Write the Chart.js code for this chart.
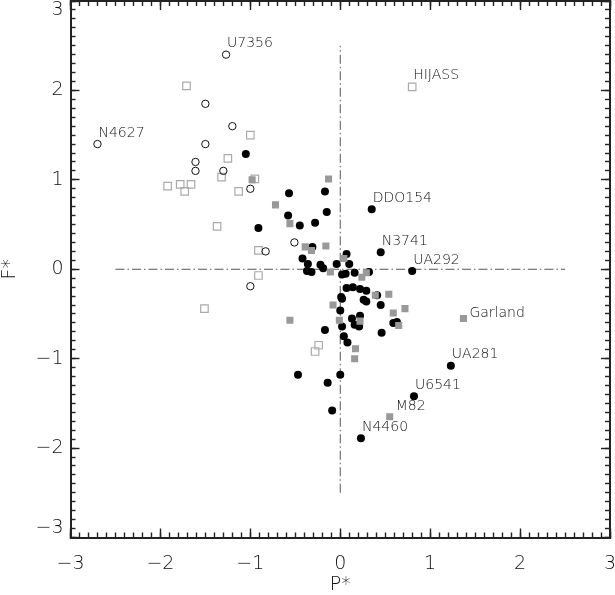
<!DOCTYPE html>
<html>
<head>
<meta charset="utf-8">
<script src="https://cdn.jsdelivr.net/npm/chart.js@4.4.1/dist/chart.umd.min.js"></script>
<style>
html,body{margin:0;padding:0;background:#fff;}
#wrap{width:615px;height:595px;}
</style>
</head>
<body>
<div id="wrap"><canvas id="chart" width="615" height="595"></canvas></div>
<script>
// filled black circles
let blackX = [-1.05,-0.57,-0.17,-0.58,-0.15,-0.28,-0.45,-0.91,-0.31,-0.42,0.07,-0.36,-0.22,-0.19,-0.04,0.10,-0.37,-0.32,0.02,0.06,0.16,0.32,0.35,0.45,0.80,0.07,0.14,0.22,0.29,0.01,0.02,0.26,0.29,0.41,0.45,0.00,0.13,0.22,0.16,0.21,0.02,0.59,0.63,-0.17,0.46,0.04,0.08,0.00,-0.14,-0.09,-0.47,1.23,0.82,0.23]
let blackY = [1.29,0.85,0.87,0.60,0.64,0.52,0.49,0.46,0.25,0.12,0.17,0.06,0.05,0.01,0.06,0.06,-0.02,-0.03,-0.06,-0.05,-0.04,-0.03,0.67,0.19,-0.02,-0.21,-0.20,-0.22,-0.24,-0.31,-0.33,-0.34,-0.36,-0.29,-0.40,-0.46,-0.55,-0.52,-0.62,-0.64,-0.64,-0.60,-0.59,-0.68,-0.71,-0.75,-0.82,-1.18,-1.27,-1.58,-1.18,-1.08,-1.42,-1.89]

// filled grey squares
let greyX = [-0.98,-0.13,-0.72,-0.56,-0.39,-0.32,-0.16,0.04,-0.11,0.24,0.29,-0.56,-0.08,-0.01,0.39,0.54,0.59,0.72,0.22,0.65,1.37,0.17,0.16,0.55]
let greyY = [1.00,1.01,0.72,0.51,0.25,0.21,0.26,0.12,-0.03,-0.09,-0.04,-0.57,-0.40,-0.57,-0.29,-0.28,-0.49,-0.44,-0.58,-0.63,-0.55,-0.89,-1.00,-1.65]

// open squares
let openSqX = [0.80,-1.71,-1.00,-1.25,-1.32,-0.95,-1.92,-1.78,-1.66,-1.73,-1.13,-1.37,-0.91,-0.91,-1.51,-0.24,-0.28]
let openSqY = [2.04,2.05,1.50,1.24,1.03,1.01,0.93,0.95,0.95,0.87,0.87,0.48,0.21,-0.07,-0.44,-0.85,-0.92]

// open circles
let openCX = [-2.70,-1.27,-1.50,-1.20,-1.50,-1.61,-1.61,-1.30,-1.00,-0.51,-0.83,-1.00]
let openCY = [1.40,2.40,1.85,1.60,1.40,1.20,1.10,1.10,0.90,0.30,0.20,-0.19]

// named galaxies
let labelNames = ["N4627","U7356","HIJASS","DDO154","N3741","UA292","Garland","UA281","U6541","M82","N4460"]
let labelX = [-2.70,-1.27,0.80,0.35,0.45,0.80,1.37,1.23,0.82,0.55,0.23]
let labelY = [1.40,2.40,2.04,0.67,0.19,-0.02,-0.55,-1.08,-1.42,-1.65,-1.89]

// dash-dot reference lines
let refSpan = [-2.5, 2.5]

let axisMin = -3
let axisMax = 3

function pts(xs, ys){
  return xs.map((v,i) => ({x:v, y:ys[i]}))
}

const ink = "#222"
const textInk = "#111"

// force box sizes so the plot frame sits where it does in the figure
function fixBox(size){
  return function(scale){
    if(scale.isHorizontal()) scale.height = size
    else scale.width = size
    scale.paddingTop = 0
    scale.paddingBottom = 0
    scale.paddingLeft = 0
    scale.paddingRight = 0
  }
}

function fmt(v){
  return v < 0 ? "\u2212" + Math.abs(v) : String(v)
}

// only tick marks, no labels
function tickAxis(axis, position, step, len, weight, size, border){
  return {
    type:"linear", axis:axis, position:position, min:axisMin, max:axisMax, weight:weight,
    afterFit: fixBox(size),
    ticks:{display:false, stepSize:step, autoSkip:false},
    grid:{drawOnChartArea:false, drawTicks:true, tickLength:-len, tickColor:ink, tickWidth:1.4},
    border:{display:border, color:ink, width:2}
  }
}

const tickFont = {family:"DejaVu Sans", size:19, weight:200, lineHeight:1}

const namePlugin = {
  id:"names",
  afterDatasetsDraw(chart){
    let xs = chart.scales.x, ys = chart.scales.y, ctx = chart.ctx
    let shift = {Garland:[6,-5], M82:[6,-10]}
    ctx.save()
    ctx.font = "200 14px 'DejaVu Sans'"
    ctx.fillStyle = textInk
    ctx.textAlign = "left"
    ctx.textBaseline = "middle"
    for(let i=0;i<labelNames.length;i++){
      let off = shift[labelNames[i]] || [1,-11]
      ctx.fillText(labelNames[i], xs.getPixelForValue(labelX[i]) + off[0], ys.getPixelForValue(labelY[i]) + off[1])
    }
    ctx.restore()
  }
}

let ctx = document.getElementById("chart").getContext("2d")

new Chart(ctx,{
  type:"scatter",
  data:{
    datasets:[
      {data:pts(greyX, greyY), pointStyle:"rect", pointRadius:5, backgroundColor:"#999", borderWidth:0},
      {data:pts(blackX, blackY), pointStyle:"circle", pointRadius:4, backgroundColor:"#000", borderWidth:0},
      {data:pts(openCX, openCY), pointStyle:"circle", pointRadius:3.7, backgroundColor:"rgba(255,255,255,0)", borderColor:"#111", borderWidth:1},
      {data:pts(openSqX, openSqY), pointStyle:"rect", pointRadius:5.3, backgroundColor:"rgba(255,255,255,0)", borderColor:"#aaa", borderWidth:1.2},
      {type:"line", data:[{x:refSpan[0], y:0},{x:refSpan[1], y:0}], borderColor:"#555", borderWidth:1, borderDash:[9,3,1.5,3], pointRadius:0, fill:false},
      {type:"line", data:[{x:0, y:refSpan[0]},{x:0, y:refSpan[1]}], borderColor:"#555", borderWidth:1, borderDash:[9,3,1.5,3], pointRadius:0, fill:false}
    ]
  },
  options:{
    responsive:false,
    animation:false,
    events:[],
    layout:{autoPadding:false},
    plugins:{legend:{display:false}, tooltip:{enabled:false}},
    scales:{
      x:{
        type:"linear", position:"bottom", min:axisMin, max:axisMax, weight:1,
        afterFit: fixBox(57.5),
        ticks:{stepSize:1, autoSkip:false, maxRotation:0, padding:26, color:textInk, font:tickFont, callback:fmt},
        grid:{drawOnChartArea:false, tickLength:-9, tickColor:ink, tickWidth:1.4},
        border:{color:ink, width:2},
        title:{display:true, text:"P*", color:textInk, font:tickFont, padding:{top:0, bottom:0}}
      },
      xMinor: tickAxis("x", "bottom", 0.1, 5, 0, 0, false),
      y:{
        type:"linear", position:"left", min:axisMin, max:axisMax, weight:1,
        afterFit: fixBox(70.5),
        ticks:{stepSize:1, autoSkip:false, padding:16, color:textInk, font:tickFont,
          callback:function(v){
            if(v === axisMax) return ["", fmt(v)]
            if(v === axisMin) return [fmt(v), ""]
            return fmt(v)
          }},
        grid:{drawOnChartArea:false, tickLength:-9, tickColor:ink, tickWidth:1.4},
        border:{color:ink, width:2},
        title:{display:true, text:"F*", color:textInk, font:tickFont, padding:{top:1, bottom:0}}
      },
      yMinor: tickAxis("y", "left", 0.1, 5, 0, 0, false),
      xTop: tickAxis("x", "top", 1, 9, 1, 1, true),
      xTopMinor: tickAxis("x", "top", 0.1, 5, 0, 0, false),
      yRight: tickAxis("y", "right", 1, 9, 1, 5, true),
      yRightMinor: tickAxis("y", "right", 0.1, 5, 0, 0, false)
    }
  },
  plugins:[namePlugin]
})
</script>
</body>
</html>
